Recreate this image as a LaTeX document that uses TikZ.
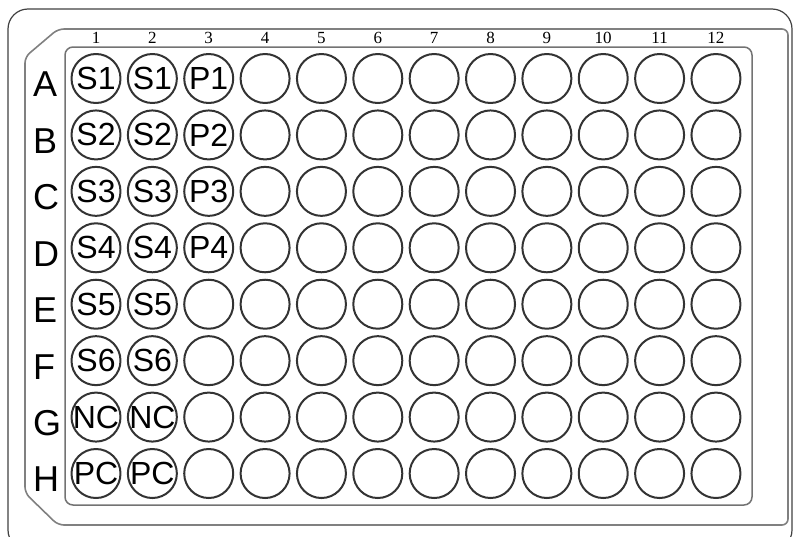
\documentclass[tikz,border=0pt]{standalone}
\usepackage{fontspec}
\setmainfont{Liberation Sans}
\newfontfamily\numfont{Liberation Serif}

\begin{document}
\begin{tikzpicture}[x=1pt, y=-1pt, line join=round,
    well/.style={draw=black!80, line width=2pt, circle, minimum size=49pt, inner sep=0pt},
    welltext/.style={font=\fontsize{32}{32}\selectfont, inner sep=0pt},
    rowtext/.style={font=\fontsize{36}{36}\selectfont, inner sep=0pt, anchor=west},
    coltext/.style={font=\numfont\fontsize{17}{17}\selectfont, inner sep=0pt}]
  \useasboundingbox (0,0) rectangle (793,536);
  % plate outline
  \draw[black!75, line width=1.2pt, rounded corners=20pt] (8,9) rectangle (792,550);
  \draw[black!50, line width=1.6pt, rounded corners=6pt]
    (58,29) -- (788,29) -- (788,525) -- (58,525) -- (25,493) -- (25,57) -- cycle;
  \draw[black!55, line width=1.5pt, rounded corners=8pt] (65,47) rectangle (752,505);
  % column numbers
  \foreach \c in {1,...,12} {
    \node[coltext] (col\c) at ({96+56.36*(\c-1)}, 38) {\c};
  }
  % rows of wells
  \foreach \r/\ri in {A/0, B/1, C/2, D/3, E/4, F/5, G/6, H/7} {
    \node[rowtext] (row\r) at (33, {78.5+56.43*\ri+6}) {\r};
    \foreach \c in {1,...,12} {
      \node[well] (w\r\c) at ({96+56.36*(\c-1)}, {78.5+56.43*\ri}) {};
    }
  }
  % samples
  \foreach \w/\t in {A1/S1, A2/S1, A3/P1, B1/S2, B2/S2, B3/P2, C1/S3, C2/S3, C3/P3,
      D1/S4, D2/S4, D3/P4, E1/S5, E2/S5, F1/S6, F2/S6, G1/NC, G2/NC, H1/PC, H2/PC} {
    \node[welltext] (t\w) at (w\w) {\t};
  }
\end{tikzpicture}
\end{document}
